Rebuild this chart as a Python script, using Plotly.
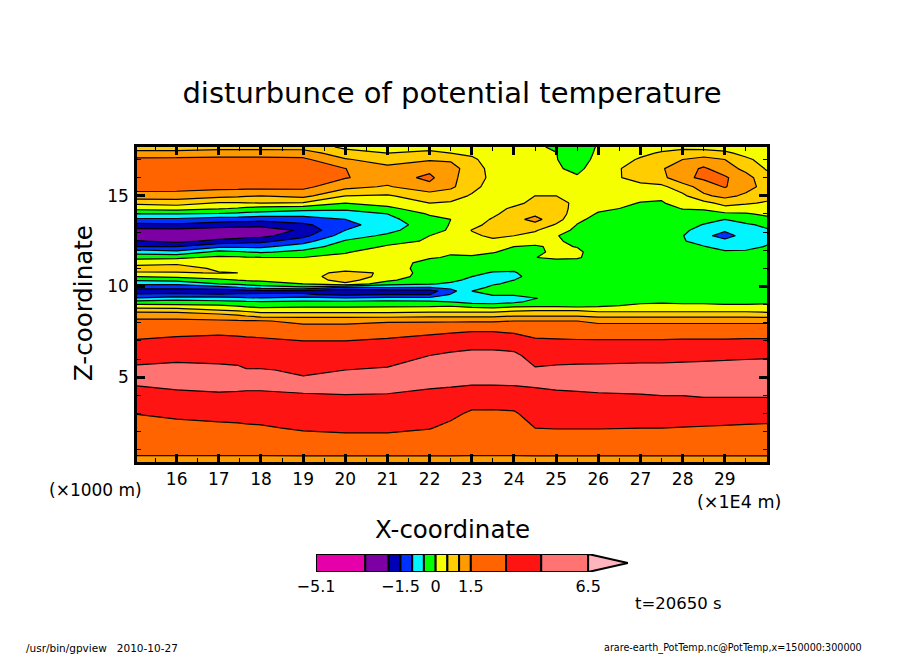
import numpy as np
import plotly.graph_objects as go

# contour levels of the tone bar (last one is the tip of the arrow)
levels = [-5.1, -3, -2, -1.5, -1, -0.5, 0, 0.5, 1, 1.5, 3, 4.5, 6.5, 8.2]
colors = ["#e600aa", "#7d00a5", "#0000b4", "#0032ff", "#00f5ff", "#00ff00", "#f5ff00",
          "#ffcd00", "#ff9b00", "#ff6400", "#ff1414", "#ff7373", "#ffb4be"]
bar_ticks = [-5.1, -1.5, 0, 1.5, 6.5]
bar_labels = ["−5.1", "−1.5", "0", "1.5", "6.5"]

x_km = [15.06, 16, 17, 17.45, 17.65, 18, 19, 20, 21, 22, 22.5, 23, 23.5, 24, 24.5, 25, 25.5, 26, 27, 27.5, 28, 28.5, 29, 29.5, 30]
z_km = [0.33, 0.7, 1.5, 2.2, 3.0, 3.8, 4.6, 5.4, 6.2, 7.0, 7.6, 8.1, 8.4, 8.7,
        8.95, 9.15, 9.35, 9.55, 9.75, 9.95, 10.15, 10.35, 10.55, 10.75,
        11.0, 11.3, 11.6, 11.9, 12.2, 12.5, 12.8, 13.1, 13.4, 13.7,
        14.0, 14.3, 14.6, 15.0, 15.5, 16.0, 16.5, 17.0, 17.35, 17.69]

# potential temperature disturbance, one list per x, bottom to top
t_1506 = [1.2, 1.55, 2.06, 2.5, 3.03, 3.8, 4.6, 4.9, 3.95, 3.1, 2.4, 1.75, 1.35, 0.8,
          0.15, -0.3, -0.95, -1.4, -1.8, -1.3, -0.9, -0.45, 0, 0.45,
          0.7, 0.35, -0.15, -0.7, -1.5, -1.95, -2.8, -2.3, -1.65, -1.1,
          -0.5, 0.15, 0.6, 1.35, 2.0, 2.2, 2.2, 1.9, 1.1, 0.85]
t_16 = [1.2, 1.55, 2.1, 2.6, 3.25, 4.05, 4.85, 5.1, 4.1, 3.3, 2.55, 1.75, 1.35, 0.75,
        0.1, -0.25, -0.75, -1.35, -1.75, -1.35, -0.9, -0.35, 0.1, 0.45,
        0.75, 0.4, -0.1, -0.85, -1.5, -2.3, -2.8, -2.3, -1.6, -1.1,
        -0.5, 0.2, 0.7, 1.3, 2.1, 2.3, 2.3, 2.0, 1.1, 0.85]
t_17 = [1.2, 1.55, 2.15, 2.7, 3.4, 4.2, 4.95, 5.0, 4.0, 3.4, 2.65, 1.7, 1.2, 0.5,
        0.05, -0.35, -0.8, -1.45, -1.8, -1.2, -0.5, -0.1, 0.2, 0.53,
        0.4, 0.3, 0.1, -0.35, -1.1, -1.85, -2.6, -2.5, -1.75, -1.25,
        -0.55, 0.05, 0.45, 1.15, 2.0, 2.3, 2.3, 2.05, 1.2, 0.85]
t_1745 = [1.2, 1.55, 2.2, 2.75, 3.45, 4.2, 4.85, 4.85, 3.95, 3.35, 2.55, 1.65, 1.05, 0.4,
          -0.05, -0.4, -0.85, -1.4, -1.75, -1.0, -0.4, 0, 0.25, 0.5,
          0.4, 0.28, 0.07, -0.43, -1.1, -1.75, -2.45, -2.6, -1.77, -1.3,
          -0.6, -0.05, 0.47, 1.1, 2.0, 2.3, 2.3, 2.05, 1.2, 0.85]
t_1765 = [1.2, 1.55, 2.25, 2.8, 3.5, 4.25, 4.75, 4.6, 3.75, 3.3, 2.5, 1.65, 0.95, 0.35,
          -0.15, -0.42, -0.9, -1.4, -1.72, -0.9, -0.33, 0.05, 0.27, 0.47,
          0.4, 0.26, 0.04, -0.48, -1.1, -1.7, -2.35, -2.65, -1.78, -1.32,
          -0.65, -0.12, 0.48, 1.05, 2.0, 2.3, 2.3, 2.05, 1.2, 0.85]
t_18 = [1.2, 1.55, 2.3, 2.85, 3.55, 4.25, 4.75, 4.6, 3.7, 3.25, 2.4, 1.6, 0.8, 0.25,
        -0.2, -0.45, -0.95, -1.4, -1.7, -0.75, -0.25, 0.1, 0.3, 0.45,
        0.4, 0.25, 0.02, -0.55, -1.1, -1.65, -2.3, -2.7, -1.8, -1.35,
        -0.7, -0.2, 0.5, 1.0, 2.0, 2.3, 2.3, 2.05, 1.2, 0.85]
t_19 = [1.2, 1.6, 2.45, 3.15, 3.75, 4.35, 4.8, 4.35, 3.65, 3.0, 2.1, 1.4, 0.8, 0.25,
        -0.13, -0.4, -0.8, -1.45, -1.6, -0.6, 0, 0.2, 0.3, 0.35,
        0.35, 0.25, 0, -0.37, -0.75, -1.2, -1.65, -1.9, -1.6, -1.25,
        -0.8, -0.3, 0.45, 1.15, 1.9, 2.1, 2.1, 1.8, 1.25, 0.8]
t_20 = [1.2, 1.6, 2.6, 3.25, 3.85, 4.4, 4.8, 4.5, 3.75, 3.0, 2.1, 1.4, 0.8, 0.25,
        -0.13, -0.4, -0.9, -1.6, -1.9, -1.05, 0.4, 0.7, 0.75, 0.6,
        0.35, 0.2, 0.1, -0.03, -0.25, -0.45, -0.75, -1.0, -1.15, -1.0,
        -0.75, -0.4, 0, 0.5, 1.15, 1.6, 1.52, 1.05, 0.7, 0.4]
t_21 = [1.2, 1.6, 2.6, 3.25, 3.8, 4.35, 4.85, 4.7, 3.9, 3.2, 2.35, 1.45, 0.8, 0.25,
        -0.1, -0.35, -0.8, -1.5, -1.8, -0.95, -0.3, 0.1, 0.35, 0.45,
        0.35, 0.3, 0.3, 0.2, 0.05, -0.15, -0.4, -0.65, -0.75, -0.65,
        -0.5, -0.1, 0.15, 0.45, 0.95, 1.25, 1.15, 0.75, 0.5, 0.35]
t_22 = [1.2, 1.6, 2.45, 3.05, 3.6, 4.15, 4.7, 5.1, 4.5, 3.5, 2.6, 1.45, 0.85, 0.3,
        -0.1, -0.4, -0.85, -1.5, -1.7, -1.0, -0.45, -0.35, -0.3, -0.3,
        -0.3, -0.2, 0.05, 0.2, 0.15, 0.05, 0, -0.15, -0.25, -0.15,
        0.05, 0.25, 0.5, 0.75, 1.35, 1.85, 1.35, 0.95, 0.6, 0.35]
t_225 = [1.2, 1.6, 2.25, 2.7, 3.3, 4.0, 4.65, 5.3, 4.8, 3.75, 2.7, 1.45, 0.85, 0.3,
         -0.05, -0.5, -0.7, -0.95, -1.2, -0.85, -0.6, -0.35, -0.3, -0.25,
         -0.2, -0.15, -0.05, 0.05, 0.15, 0.2, 0.15, 0.05, 0.03, 0,
         0.15, 0.3, 0.45, 0.7, 1.1, 1.1, 1.15, 0.95, 0.5, 0.3]
t_23 = [1.2, 1.55, 1.95, 2.4, 2.8, 3.6, 4.55, 5.4, 5.0, 3.9, 2.85, 1.45, 0.85, 0.3,
        -0.2, -0.7, -0.95, -0.75, -0.5, -0.7, -0.8, -0.65, -0.5, -0.35,
        -0.25, -0.15, -0.05, 0.1, 0.2, 0.3, 0.4, 0.52, 0.3, 0.25,
        0.25, 0.3, 0.35, 0.45, 0.65, 0.8, 0.8, 0.6, 0.4, 0.25]
t_235 = [1.2, 1.55, 1.95, 2.4, 2.8, 3.55, 4.55, 5.4, 5.0, 3.9, 2.85, 1.45, 0.85, 0.3,
         -0.3, -0.7, -0.75, -0.45, -0.35, -0.4, -0.55, -0.7, -0.7, -0.55,
         -0.35, -0.2, -0.1, 0.02, 0.2, 0.4, 0.6, 0.75, 0.7, 0.55,
         0.4, 0.3, 0.3, 0.3, 0.3, 0.35, 0.3, 0.25, 0.2, 0.15]
t_24 = [1.2, 1.55, 2.05, 2.55, 2.85, 3.65, 4.6, 5.3, 4.9, 3.7, 2.7, 1.5, 0.95, 0.4,
        -0.15, -0.6, -0.7, -0.45, -0.3, -0.3, -0.4, -0.5, -0.65, -0.55,
        -0.4, -0.3, -0.2, -0.1, 0, 0.2, 0.5, 0.7, 0.85, 0.85,
        0.75, 0.6, 0.35, 0.25, 0.2, 0.2, 0.15, 0.12, 0.1, 0.1]
t_245 = [1.2, 1.6, 2.3, 3.0, 3.55, 4.1, 4.65, 4.7, 3.95, 3.2, 2.45, 1.5, 0.95, 0.45,
         -0.15, -0.35, -0.52, -0.3, -0.25, -0.25, -0.25, -0.25, -0.25, -0.25,
         -0.2, -0.15, -0.01, -0.1, -0.05, 0.15, 0.35, 0.55, 0.85, 1.15,
         0.9, 0.75, 0.65, 0.5, 0.15, 0.1, 0.1, 0.05, 0.05, 0.05]
t_25 = [1.2, 1.6, 2.35, 3.05, 3.6, 4.2, 4.75, 4.85, 4.0, 3.15, 2.4, 1.5, 0.95, 0.45,
        -0.15, -0.3, -0.35, -0.35, -0.3, -0.3, -0.3, -0.3, -0.25, -0.25,
        -0.25, -0.25, 0.1, 0.1, 0.08, 0.05, 0.02, 0.2, 0.45, 0.7,
        0.75, 0.7, 0.65, 0.5, 0.15, 0.1, 0.05, 0.02, 0.01, -0.05]
t_255 = [1.2, 1.6, 2.35, 3.05, 3.6, 4.25, 4.8, 4.9, 4.05, 3.1, 2.35, 1.5, 0.95, 0.45,
         -0.2, -0.3, -0.35, -0.35, -0.35, -0.35, -0.3, -0.3, -0.3, -0.25,
         -0.2, -0.2, 0.05, 0.1, -0.02, -0.1, -0.15, -0.1, -0.02, 0.1,
         0.25, 0.35, 0.4, 0.35, 0.2, 0.05, -0.1, -0.25, -0.3, -0.3]
t_26 = [1.2, 1.6, 2.35, 3.05, 3.65, 4.3, 4.85, 4.95, 4.05, 3.1, 2.3, 1.4, 0.85, 0.35,
        -0.1, -0.25, -0.3, -0.35, -0.35, -0.35, -0.35, -0.35, -0.35, -0.3,
        -0.3, -0.25, -0.2, -0.25, -0.3, -0.3, -0.3, -0.25, -0.2, -0.15,
        -0.05, 0.1, 0.2, 0.3, 0.3, 0.25, 0.2, 0.15, 0.1, 0.05]
t_27 = [1.2, 1.6, 2.35, 3.0, 3.65, 4.35, 4.9, 5.0, 4.1, 3.1, 2.3, 1.4, 0.85, 0.35,
        0.1, -0.1, -0.25, -0.3, -0.3, -0.35, -0.35, -0.35, -0.35, -0.35,
        -0.35, -0.35, -0.35, -0.35, -0.35, -0.35, -0.35, -0.35, -0.3, -0.3,
        -0.2, -0.1, -0.02, 0.15, 0.35, 0.7, 0.75, 0.55, 0.4, 0.25]
t_275 = [1.2, 1.6, 2.3, 3.0, 3.7, 4.4, 4.95, 5.0, 4.1, 3.1, 2.3, 1.4, 0.85, 0.35,
         0.1, -0.05, -0.2, -0.3, -0.3, -0.35, -0.35, -0.35, -0.35, -0.35,
         -0.35, -0.35, -0.35, -0.4, -0.4, -0.4, -0.4, -0.35, -0.35, -0.3,
         -0.25, -0.15, -0.05, 0.1, 0.4, 0.85, 0.95, 0.8, 0.55, 0.35]
t_28 = [1.2, 1.6, 2.3, 2.95, 3.7, 4.4, 4.95, 5.05, 4.15, 3.15, 2.3, 1.4, 0.85, 0.35,
        0.1, -0.1, -0.2, -0.3, -0.3, -0.3, -0.3, -0.3, -0.3, -0.35,
        -0.35, -0.35, -0.35, -0.4, -0.42, -0.47, -0.48, -0.4, -0.35, -0.25,
        -0.15, 0.02, 0.25, 0.4, 0.75, 1.4, 1.3, 1.0, 0.65, 0.4]
t_285 = [1.2, 1.6, 2.3, 2.9, 3.7, 4.45, 5.0, 5.1, 4.2, 3.15, 2.3, 1.4, 0.85, 0.35,
         0.1, -0.1, -0.2, -0.25, -0.3, -0.3, -0.3, -0.3, -0.3, -0.3,
         -0.3, -0.3, -0.35, -0.4, -0.48, -0.65, -0.9, -0.7, -0.52, -0.35,
         -0.15, 0.05, 0.35, 0.9, 1.25, 1.75, 1.7, 1.2, 0.7, 0.35]
t_29 = [1.2, 1.6, 2.25, 2.85, 3.65, 4.45, 5.0, 5.15, 4.25, 3.15, 2.3, 1.4, 0.85, 0.35,
        0.05, -0.1, -0.2, -0.25, -0.3, -0.3, -0.3, -0.3, -0.3, -0.3,
        -0.3, -0.3, -0.35, -0.45, -0.65, -0.9, -1.15, -0.95, -0.7, -0.5,
        -0.1, 0.35, 0.65, 1.15, 1.6, 1.7, 1.25, 1.0, 0.6, 0.3]
t_295 = [1.2, 1.6, 2.2, 2.8, 3.6, 4.45, 5.0, 5.2, 4.3, 3.2, 2.3, 1.4, 0.85, 0.35,
         0.05, -0.1, -0.2, -0.25, -0.3, -0.3, -0.3, -0.3, -0.3, -0.3,
         -0.3, -0.3, -0.35, -0.45, -0.6, -0.75, -0.85, -0.75, -0.58, -0.3,
         -0.05, 0.3, 0.55, 0.9, 1.2, 1.2, 0.85, 0.6, 0.35, 0.2]
t_30 = [1.2, 1.6, 2.2, 2.75, 3.55, 4.45, 5.0, 5.2, 4.35, 3.2, 2.3, 1.4, 0.8, 0.3,
        0.1, -0.1, -0.2, -0.25, -0.3, -0.3, -0.3, -0.3, -0.3, -0.3,
        -0.3, -0.3, -0.3, -0.4, -0.48, -0.55, -0.6, -0.55, -0.4, -0.15,
        0.1, 0.3, 0.45, 0.65, 0.8, 0.65, 0.45, 0.3, 0.2, 0.1]

W, H = 904, 654


def px_x(p):
    return p / W


def px_y(p):
    return 1 - p / H


columns = [t_1506, t_16, t_17, t_1745, t_1765, t_18, t_19, t_20, t_21, t_22, t_225, t_23, t_235, t_24,
           t_245, t_25, t_255, t_26, t_27, t_275, t_28, t_285, t_29, t_295, t_30]
theta = np.array(columns).T

# levels are not evenly spaced, plotly wants a constant step so contour the level index
n_bands = len(colors)
theta_idx = np.interp(theta, levels, np.arange(n_bands + 1))
scale = []
for i, c in enumerate(colors):
    scale += [[i / n_bands, c], [(i + 1) / n_bands, c]]

fig = go.Figure()
fig.add_trace(go.Contour(
    x=x_km, y=z_km, z=theta_idx,
    zmin=0, zmax=n_bands, colorscale=scale, showscale=False,
    autocontour=False,
    contours=dict(start=0, end=n_bands, size=1, coloring="fill"),
    line=dict(color="black", width=1.2, smoothing=0),
    hoverinfo="skip",
))

# tone bar with the arrow tip above the last level
fig.add_trace(go.Bar(
    y=[0.5] * (n_bands - 1),
    x=np.diff(levels[:-1]), base=levels[:-2], orientation="h", width=1,
    marker=dict(color=colors[:-1], line=dict(color="black", width=2)),
    xaxis="x2", yaxis="y2", hoverinfo="skip",
))
fig.add_trace(go.Scatter(
    x=[levels[-2], levels[-1], levels[-2], levels[-2]], y=[0, 0.5, 1, 0],
    mode="lines", fill="toself", fillcolor=colors[-1],
    line=dict(color="black", width=2),
    xaxis="x2", yaxis="y2", hoverinfo="skip",
))

font = "DejaVu Sans"
axis_common = dict(
    ticks="inside", ticklen=8, tickwidth=2.5, tickcolor="black",
    showline=True, linecolor="black", linewidth=2.5, mirror="ticks",
    showgrid=False, zeroline=False, automargin=False,
    tickfont=dict(family=font, size=17, color="black"),
)
fig.update_layout(
    width=W, height=H, margin=dict(l=0, r=0, t=0, b=0),
    paper_bgcolor="white", plot_bgcolor="white", showlegend=False,
    title=dict(text="disturbunce of potential temperature", x=452 / W, y=px_y(93),
               xanchor="center", yanchor="middle",
               font=dict(family=font, size=29, color="black")),
    xaxis=dict(
        domain=[px_x(137), px_x(767)], range=[15.06, 30], tickmode="array",
        tickvals=list(range(16, 30)), ticktext=[str(v) for v in range(16, 30)],
        minor=dict(dtick=0.5, ticks="inside", ticklen=4, tickwidth=1, tickcolor="black"),
        ticklabelstandoff=0, **axis_common,
    ),
    yaxis=dict(
        domain=[px_y(462), px_y(147)], range=[0.33, 17.69], tickmode="array",
        tickvals=[5, 10, 15], ticktext=["5", "10", "15"],
        minor=dict(dtick=1, ticks="inside", ticklen=4, tickwidth=1, tickcolor="black"),
        ticklabelstandoff=2, **axis_common,
    ),
    xaxis2=dict(
        domain=[px_x(316), px_x(628)], range=[levels[0], levels[-1]], anchor="y2",
        tickmode="array", tickvals=bar_ticks, ticktext=bar_labels, ticks="", showgrid=False,
        zeroline=False, showline=False, automargin=False,
        tickfont=dict(family=font, size=16, color="black"), ticklabelstandoff=3,
    ),
    yaxis2=dict(domain=[px_y(572), px_y(554)], range=[0, 1], anchor="x2", visible=False),
)

notes = [
    ("X-coordinate", 452, 529, 24.5, "center", 0),
    ("Z-coordinate", 83, 303, 24.5, "center", -90),
    ("(×1000 m)", 95, 490, 17, "center", 0),
    ("(×1E4 m)", 739, 502, 17.5, "center", 0),
    ("t=20650 s", 678, 603, 16.5, "center", 0),
    ("/usr/bin/gpview   2010-10-27", 24, 648, 10.5, "left", 0),
    ("arare-earth_PotTemp.nc@PotTemp,x=150000:300000", 864, 648, 9.6, "right", 0),
]
for text, px, py, size, anchor, angle in notes:
    fig.add_annotation(text=text, x=px_x(px), y=px_y(py), xref="paper", yref="paper",
                       xanchor=anchor, yanchor="middle", showarrow=False, textangle=angle,
                       font=dict(family=font, size=size, color="black"))

fig.write_html("out.html", post_script="document.body.style.margin='0';",
               config={"displayModeBar": False})
